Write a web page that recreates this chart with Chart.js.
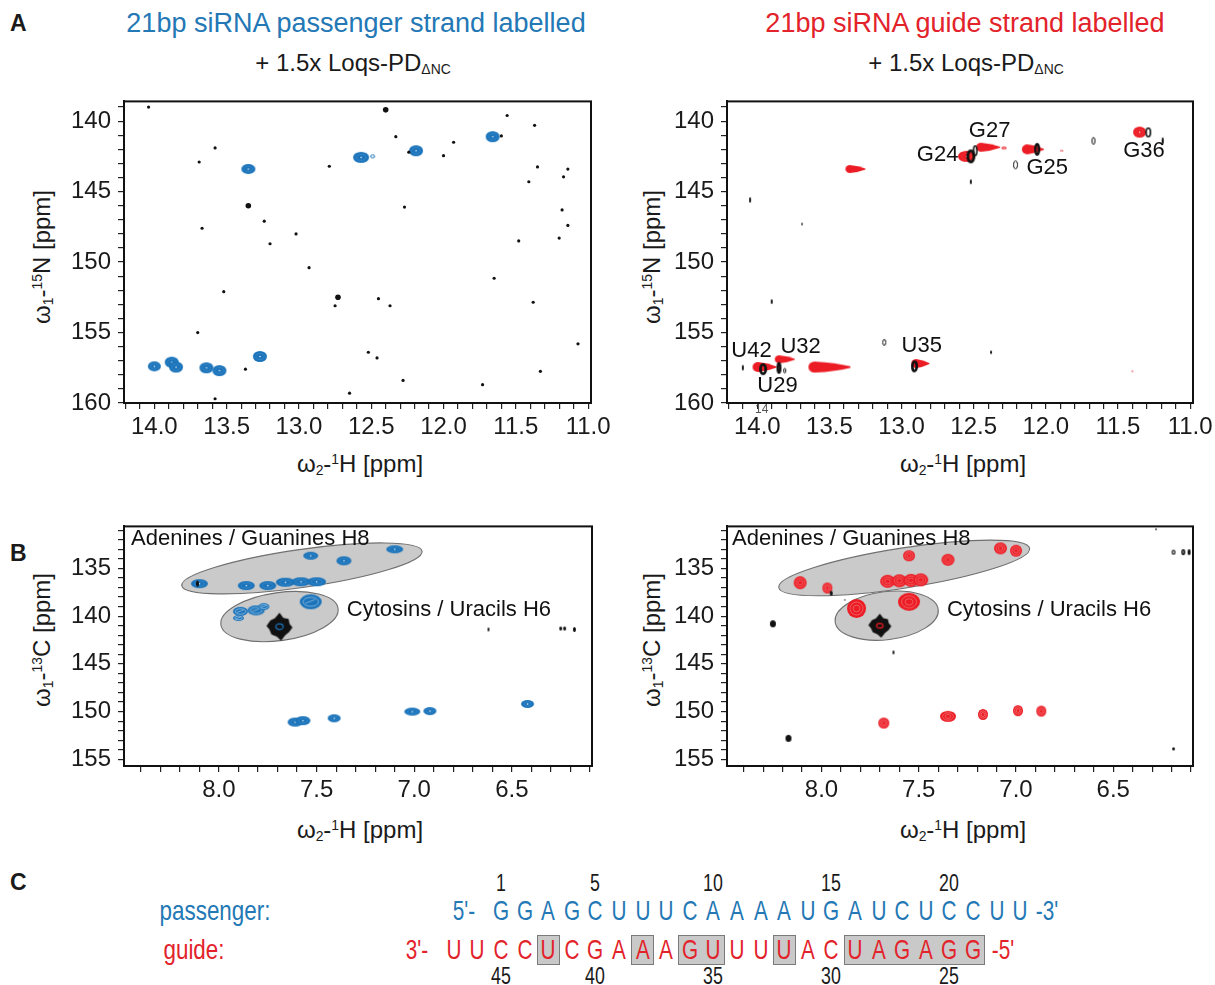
<!DOCTYPE html>
<html>
<head>
<meta charset="utf-8">
<script src="https://cdn.jsdelivr.net/npm/chart.js@4.4.0/dist/chart.umd.min.js"></script>
<style>
  body { margin: 0; width: 1215px; height: 985px; overflow: hidden; background: #fff; position: relative;
         font-family: Arial, "Liberation Sans", Helvetica, sans-serif; color: #1a1a1a; }
  .t { position: absolute; white-space: nowrap; line-height: 1; }
  .c { transform: translate(-50%, -50%); }
  .rot { transform: translate(-50%, -50%) rotate(-90deg); }
  .panel { position: absolute; }
  sub, sup { font-size: 58%; line-height: 0; }
  sub { vertical-align: -0.25em; }
  sup { vertical-align: 0.6em; }
  .seq { position: absolute; white-space: nowrap; line-height: 1; font-size: 28px; transform: translate(-50%, -50%) scaleX(0.74); }
  .box { position: absolute; background: #c9c9c9; border: 1px solid #7a7a7a; box-sizing: border-box; }
</style>
</head>
<body>
<div class="t" style="left:10px;top:12px;font-size:23px;font-weight:bold">A</div>
<div class="t" style="left:10px;top:542px;font-size:23px;font-weight:bold">B</div>
<div class="t" style="left:10px;top:871px;font-size:23px;font-weight:bold">C</div>

<div class="t c" style="left:356px;top:23px;font-size:27px;color:#2378b5">21bp siRNA passenger strand labelled</div>
<div class="t c" style="left:965px;top:23px;font-size:27px;color:#e3232b">21bp siRNA guide strand labelled</div>
<div class="t c" style="left:353px;top:63px;font-size:24px">+ 1.5x Loqs-PD<sub>ΔNC</sub></div>
<div class="t c" style="left:966px;top:63px;font-size:24px">+ 1.5x Loqs-PD<sub>ΔNC</sub></div>

<div class="t rot" style="left:42px;top:257px;font-size:24px">ω<sub>1</sub>-<sup>15</sup>N [ppm]</div>
<div class="t rot" style="left:652px;top:257px;font-size:24px">ω<sub>1</sub>-<sup>15</sup>N [ppm]</div>
<div class="t rot" style="left:42px;top:640px;font-size:24px">ω<sub>1</sub>-<sup>13</sup>C [ppm]</div>
<div class="t rot" style="left:652px;top:640px;font-size:24px">ω<sub>1</sub>-<sup>13</sup>C [ppm]</div>
<div class="t c" style="left:360px;top:464px;font-size:24px">ω<sub>2</sub>-<sup>1</sup>H [ppm]</div>
<div class="t c" style="left:963px;top:464px;font-size:24px">ω<sub>2</sub>-<sup>1</sup>H [ppm]</div>
<div class="t c" style="left:360px;top:830px;font-size:24px">ω<sub>2</sub>-<sup>1</sup>H [ppm]</div>
<div class="t c" style="left:963px;top:830px;font-size:24px">ω<sub>2</sub>-<sup>1</sup>H [ppm]</div>

<canvas id="aPass" class="panel" width="590" height="360" style="left:40px;top:80px"></canvas>
<canvas id="aGuide" class="panel" width="600" height="360" style="left:640px;top:80px"></canvas>
<canvas id="bPass" class="panel" width="590" height="300" style="left:40px;top:505px"></canvas>
<canvas id="bGuide" class="panel" width="600" height="300" style="left:640px;top:505px"></canvas>

<div id="seqArea"></div>

<script>
// ---- data (ppm) ----
// A: imino 1H-15N, passenger strand labelled
const aPassH = [13.35, 12.57, 12.49, 12.19, 11.66, 14.00, 13.88, 13.85, 13.64, 13.55, 13.27];
const aPassN = [143.4, 142.57, 142.5, 142.1, 141.1, 157.4, 157.1, 157.45, 157.5, 157.7, 156.7];
// black (unlabelled reference) peaks
const aPassBgH = [14.04, 11.56, 11.37, 12.33, 11.93, 12.24, 11.60, 13.58, 13.69, 12.79, 12.00, 11.35, 11.14, 11.17,
  11.41, 12.27, 11.18, 13.24, 11.14, 13.67, 13.02, 13.20, 11.48, 11.20, 12.93, 11.65, 13.52, 12.75, 12.45, 12.37,
  11.38, 13.70, 11.07, 12.52, 12.46, 13.37, 11.33, 12.28, 11.73, 12.65, 13.58];
const aPassBgN = [139.0, 139.6, 140.3, 141.1, 141.5, 142.2, 141.05, 141.9, 142.9, 143.2, 142.45, 143.25, 143.4, 143.95,
  144.3, 146.1, 146.3, 147.1, 147.4, 147.6, 148.0, 148.7, 148.5, 148.3, 150.4, 151.15, 152.1, 153.1, 152.6, 153.1,
  152.85, 155.0, 155.8, 156.4, 156.8, 157.6, 157.75, 158.4, 158.7, 159.3, 159.7];
const aPassBgBigH = [12.40, 13.35, 12.73];
const aPassBgBigN = [139.2, 146.0, 152.5];

// A: guide strand labelled
const aGuideH = [11.35, 12.40, 12.29, 12.55, 12.09, 11.89, 13.32, 13.95, 13.81, 13.50, 12.87, 11.40];
const aGuideN = [140.78, 141.85, 141.9, 142.5, 142.0, 142.1, 143.4, 157.45, 156.9, 157.45, 157.2, 157.75];
const aGuideBgH = [11.29, 11.19, 11.67, 12.49, 12.52, 12.06, 12.21, 12.52, 13.96, 13.85, 12.91, 13.12, 14.10, 13.81, 12.38, 14.05, 13.69, 13.90];
const aGuideBgN = [140.8, 141.4, 141.4, 142.1, 142.5, 142.0, 143.1, 144.3, 157.6, 157.5, 157.4, 155.7, 157.5, 157.7, 156.4, 145.6, 147.3, 152.8];
const aGuideNames = ['G27', 'G24', 'G25', 'G36', 'U42', 'U32', 'U29', 'U35'];

// B: aromatic 1H-13C, passenger strand labelled
const bPassH = [7.53, 7.36, 7.10, 8.10, 7.86, 7.75, 7.66, 7.58, 7.50, 7.89, 7.81, 7.90, 7.77, 7.53, 7.61, 7.57, 7.41, 7.01, 6.92, 6.42];
const bPassC = [133.67, 134.2, 133.0, 136.6, 136.8, 136.8, 136.45, 136.4, 136.4, 139.5, 139.4, 140.2, 139.0, 138.5, 151.1, 150.95, 150.7, 150.0, 149.95, 149.2];
const bPassBgH = [7.69, 8.11, 6.62, 6.25, 6.23, 6.18];
const bPassBgC = [141.1, 136.6, 141.4, 141.3, 141.3, 141.4];

// B: guide strand labelled
const bGuideH = [8.11, 7.97, 7.55, 7.35, 7.08, 7.00, 7.66, 7.60, 7.54, 7.49, 7.82, 7.55, 7.68, 7.35, 7.17, 6.99, 6.87];
const bGuideC = [136.5, 137.05, 133.67, 134.1, 132.9, 133.15, 136.35, 136.3, 136.25, 136.2, 139.2, 138.5, 151.2, 150.5, 150.3, 149.9, 149.95];
const bGuideBgH = [7.70, 8.25, 8.17, 7.63, 6.19, 6.14, 6.11, 6.28, 6.19, 7.88, 7.95];
const bGuideBgC = [141.0, 140.8, 152.8, 143.8, 133.3, 133.3, 133.3, 130.9, 153.9, 138.3, 137.6];

// tick labels
const hTicksA = [14.0, 13.5, 13.0, 12.5, 12.0, 11.5, 11.0];
const nTicks = [140, 145, 150, 155, 160];
const hTicksB = [8.0, 7.5, 7.0, 6.5];
const cTicks = [135, 140, 145, 150, 155];

// sequences (C)
const passengerSeq = 'GGAGCUUUCAAAAUGAUCUCCUU'.split('');
const guideSeq = 'UUCCUCGAAAGUUUUACUAGAGG'.split('');   // written 3' -> 5'
const topNumbers = [1, 5, 10, 15, 20];
const bottomNumbers = [45, 40, 35, 30, 25];
const boxedColumns = [3, 7, 9, 10, 13, 16, 17, 18, 19, 20, 21];

// ---- styling ----
const BLUE = '#1b74bb', RED = '#ec1c24', BLACK = '#111';
Chart.defaults.font.family = 'Arial, "Liberation Sans", Helvetica, sans-serif';
Chart.defaults.color = '#1a1a1a';

function sprite(w, h, paint) {
  const c = document.createElement('canvas');
  c.width = Math.ceil(w) + 4; c.height = Math.ceil(h) + 4;
  const g = c.getContext('2d');
  g.translate(c.width / 2, c.height / 2);
  paint(g, w / 2, h / 2);
  return c;
}
const oval = (g, rx, ry) => { g.beginPath(); g.ellipse(0, 0, rx, ry, 0, 0, Math.PI * 2); };
const blob = (w, h, col) => sprite(w, h, (g, rx, ry) => {
  g.fillStyle = col; oval(g, rx, ry); g.fill();
  g.strokeStyle = 'rgba(255,255,255,0.18)'; g.lineWidth = 0.6; oval(g, rx * 0.6, ry * 0.55); g.stroke();
  g.fillStyle = 'rgba(255,255,255,0.9)'; g.fillRect(-0.6, -0.6, 1.3, 1.3);
});
const tear = (w, h, col) => sprite(w, h, (g, rx, ry) => {
  const hx = -rx + ry * 1.1;
  g.fillStyle = col; g.beginPath();
  g.ellipse(hx, 0, ry * 1.1, ry, 0, Math.PI / 2, Math.PI * 1.5);
  g.quadraticCurveTo(rx * 0.3, -ry * 0.8, rx, -ry * 0.12);
  g.lineTo(rx, ry * 0.12);
  g.quadraticCurveTo(rx * 0.3, ry * 0.8, hx, ry);
  g.fill();
});
const ring = (w, h, col, lw) => sprite(w, h, (g, rx, ry) => {
  g.strokeStyle = col; g.lineWidth = lw; oval(g, Math.max(rx - lw / 2, 0.3), Math.max(ry - lw / 2, 0.3)); g.stroke();
});
const rings = (w, h, col) => sprite(w, h, (g, rx, ry) => {
  g.fillStyle = col; oval(g, rx, ry); g.fill();
  g.strokeStyle = 'rgba(255,255,255,0.55)'; g.lineWidth = 0.5;
  oval(g, rx * 0.68, ry * 0.68); g.stroke();
  oval(g, rx * 0.36, ry * 0.36); g.stroke();
});
const contour = (w, h, col) => sprite(w, h, (g, rx, ry) => {
  g.fillStyle = col; oval(g, rx, ry); g.fill();
  g.strokeStyle = 'rgba(255,255,255,0.6)'; g.lineWidth = 0.7;
  oval(g, rx * 0.7, ry * 0.6); g.stroke();
  g.beginPath(); g.moveTo(-rx * 0.5, ry * 0.2); g.lineTo(rx * 0.4, -ry * 0.3); g.stroke();
});
const star = (w, h, core) => sprite(w, h, (g, rx, ry) => {
  const pts = [[0, -1], [0.3, -0.62], [0.7, -0.55], [0.78, -0.2], [1, 0.05], [0.75, 0.38], [0.45, 0.6], [0.12, 1],
    [-0.2, 0.72], [-0.62, 0.55], [-0.78, 0.2], [-1, -0.05], [-0.7, -0.45], [-0.35, -0.6]];
  g.fillStyle = BLACK; g.beginPath();
  pts.forEach(([px, py], i) => i ? g.lineTo(px * rx, py * ry) : g.moveTo(px * rx, py * ry));
  g.closePath(); g.fill();
  g.strokeStyle = core; g.lineWidth = 1.2; oval(g, rx * 0.28, ry * 0.2); g.stroke();
});

const aPassLook = [blob(14, 10, BLUE), blob(16, 11, BLUE), ring(5, 4, BLUE, 1), blob(14, 11, BLUE), blob(14, 11, BLUE),
  blob(13, 10, BLUE), blob(14, 11, BLUE), blob(14, 11, BLUE), blob(14, 11, BLUE), blob(14, 11, BLUE), blob(14, 11, BLUE)];
const aGuideLook = [blob(13, 11, RED), tear(24, 9, RED), blob(5, 3, RED), blob(17, 11, RED), tear(22, 10, RED),
  blob(3, 2, RED), tear(20, 8, RED), tear(24, 10, RED), tear(20, 8, RED), tear(42, 11, RED), tear(18, 9, RED), blob(2, 2, RED)];
const aGuideBgLook = [ring(6, 10, BLACK, 1.6), ring(2, 7, BLACK, 1.5), ring(4, 8, BLACK, 1), ring(5, 11, BLACK, 1.6),
  ring(9, 14, BLACK, 2.8), ring(6, 13, BLACK, 2.4), ring(5, 9, BLACK, 1), ring(2, 5, BLACK, 1.2), ring(8, 12, BLACK, 2.8),
  ring(5, 12, BLACK, 2.4), ring(7, 12, BLACK, 2.6), ring(4, 7, BLACK, 1), ring(2, 6, BLACK, 1.2), ring(3, 6, BLACK, 1),
  ring(2, 4, BLACK, 1), ring(2, 6, BLACK, 1.2), ring(1.5, 3, BLACK, 1), ring(2, 5, BLACK, 1.2)];
const bPassLook = [blob(15, 8, BLUE), blob(15, 9, BLUE), blob(17, 8, BLUE), blob(17, 9, BLUE), blob(17, 9, BLUE),
  blob(17, 9, BLUE), blob(19, 9, BLUE), blob(19, 9, BLUE), blob(19, 9, BLUE), contour(15, 9, BLUE), contour(17, 10, BLUE),
  contour(11, 6, BLUE), contour(11, 7, BLUE), contour(22, 15, BLUE), blob(15, 9, BLUE), blob(15, 9, BLUE),
  blob(13, 8, BLUE), blob(16, 8, BLUE), blob(13, 8, BLUE), blob(13, 8, BLUE)];
const bPassBgLook = [star(26, 28, BLUE), ring(3, 6, BLACK, 1.5), ring(2, 4, BLACK, 1.2), ring(3, 4, BLACK, 1.5),
  ring(3, 4, BLACK, 1.5), ring(3, 5, BLACK, 1.5)];
const bGuideLook = [rings(13, 13, RED), rings(10, 11, RED), rings(12, 11, RED), rings(13, 12, RED), rings(13, 12, RED),
  rings(12, 12, RED), rings(15, 13, RED), rings(15, 13, RED), rings(15, 13, RED), rings(15, 13, RED), rings(19, 19, RED),
  rings(22, 18, RED), rings(11, 11, RED), rings(16, 11, RED), rings(10, 11, RED), rings(10, 11, RED), rings(10, 11, RED)];
const bGuideBgLook = [star(23, 24, RED), ring(6, 7, BLACK, 3), ring(6, 7, BLACK, 3), ring(2, 4, BLACK, 1.2),
  ring(4, 5, BLACK, 1.2), ring(4, 6, BLACK, 1.6), ring(3, 6, BLACK, 1.6), ring(2, 2, BLACK, 1), ring(3, 3, BLACK, 1.5),
  ring(1.5, 1.5, BLACK, 1), ring(3, 5, BLACK, 1.5)];

// ---- helpers ----
function steps(from, to, step) {      // evenly spaced minor tick values
  const out = [];
  for (let i = Math.round(from / step); i >= Math.round(to / step); i--) out.push(+(i * step).toFixed(2));
  return out;
}
function axis(min, max, minor, major, fixed, isX, digits) {
  return {
    type: 'linear', reverse: true, min, max, bounds: 'data',
    afterBuildTicks: s => { s.ticks = minor.map(v => ({ value: v })); },
    afterFit: s => { if (isX) s.height = fixed; else s.width = fixed; },
    ticks: {
      autoSkip: false, maxRotation: 0, minRotation: 0, padding: isX ? 4 : 7,
      font: { size: 24 }, color: '#1a1a1a',
      callback: v => major.some(m => Math.abs(m - v) < 1e-6) ? v.toFixed(digits) : ''
    },
    grid: { drawOnChartArea: false, tickLength: 6, color: '#222', lineWidth: 1.2 },
    border: { color: '#111', width: 2 }
  };
}
function peaks(xs, ys, look, extra) {
  return Object.assign({
    data: xs.map((x, i) => ({ x, y: ys[i] })),
    pointStyle: look ? (c => look[c.dataIndex]) : 'circle',
    pointRadius: 3, pointBorderWidth: 0, backgroundColor: BLACK, borderColor: BLACK, showLine: false
  }, extra || {});
}
// frame, grey assignment regions and in-plot text, all placed in ppm through the scales
function decor(regions, notes) {
  return {
    id: 'decor',
    beforeDatasetsDraw(chart) {
      const xs = chart.scales.x, ys = chart.scales.y, g = chart.ctx;
      regions.forEach(r => {
        const x1 = xs.getPixelForValue(r.from[0]), y1 = ys.getPixelForValue(r.from[1]);
        const x2 = xs.getPixelForValue(r.to[0]), y2 = ys.getPixelForValue(r.to[1]);
        g.save(); g.beginPath();
        g.ellipse((x1 + x2) / 2, (y1 + y2) / 2, Math.hypot(x2 - x1, y2 - y1) / 2, r.half, Math.atan2(y2 - y1, x2 - x1), 0, Math.PI * 2);
        g.fillStyle = '#cacaca'; g.fill(); g.lineWidth = 1.1; g.strokeStyle = '#707070'; g.stroke();
        g.restore();
      });
    },
    afterDraw(chart) {
      const xs = chart.scales.x, ys = chart.scales.y, g = chart.ctx, a = chart.chartArea;
      g.save();
      notes.forEach(n => {
        g.font = (n.size || 22) + 'px Arial, "Liberation Sans", sans-serif';
        g.fillStyle = n.color || '#111'; g.textAlign = n.align || 'center'; g.textBaseline = 'middle';
        g.fillText(n.text, xs.getPixelForValue(n.at[0]), ys.getPixelForValue(n.at[1]));
      });
      g.lineWidth = 2; g.strokeStyle = '#111';
      g.strokeRect(a.left, a.top, a.width, a.height);
      g.restore();
    }
  };
}
function spectrum(id, datasets, scales, pad, plugin) {
  return new Chart(document.getElementById(id), {
    type: 'scatter',
    data: { datasets },
    options: {
      responsive: false, animation: false, events: [],
      layout: { padding: pad },
      plugins: { legend: { display: false }, tooltip: { enabled: false } },
      scales
    },
    plugins: [plugin]
  });
}

// ---- A: 1H-15N ----
const aScales = (yw) => ({
  x: axis(10.98, 14.21, steps(14.2, 11.0, 0.1), hTicksA, 37, true, 1),
  y: axis(138.6, 160, steps(160, 139, 1), nTicks, yw, false, 0)
});
spectrum('aPass', [
  peaks(aPassBgBigH, aPassBgBigN, null, { pointRadius: 2.8 }),
  peaks(aPassBgH, aPassBgN, null, { pointRadius: 1.6 }),
  peaks(aPassH, aPassN, aPassLook)
], aScales(84), { top: 12, right: 39, left: 0, bottom: 0 }, decor([], []));

const guideLabelAt = [[12.39, 140.67], [12.75, 142.38], [11.99, 143.3], [11.32, 142.13],
  [14.04, 156.28], [13.70, 156.0], [13.86, 158.8], [12.86, 155.93]];
spectrum('aGuide', [
  peaks(aGuideBgH, aGuideBgN, aGuideBgLook),
  peaks(aGuideH, aGuideN, aGuideLook)
], aScales(87), { top: 12, right: 47, left: 0, bottom: 0 },
  decor([], aGuideNames.map((t, i) => ({ text: t, at: guideLabelAt[i] }))
    .concat([{ text: '14', at: [13.97, 160.5], size: 12, color: '#555' }])));

// ---- B: 1H-13C ----
const bScales = (yw) => ({
  x: axis(6.09, 8.486, steps(8.4, 6.1, 0.1), hTicksB, 39, true, 1),
  y: axis(130.6, 155.7, steps(155, 131, 1), cTicks, yw, false, 0)
});
spectrum('bPass', [
  peaks(bPassBgH, bPassBgC, bPassBgLook),
  peaks(bPassH, bPassC, bPassLook)
], bScales(84), { top: 16, right: 38, left: 0, bottom: 0 },
  decor([{ from: [8.19, 136.8], to: [6.96, 133.2], half: 19 }, { from: [7.99, 140.9], to: [7.39, 139.2], half: 24 }],
    [{ text: 'Adenines / Guanines H8', at: [8.45, 131.95], align: 'left' },
     { text: 'Cytosins / Uracils H6', at: [7.345, 139.4], align: 'left' }]));

spectrum('bGuide', [
  peaks(bGuideBgH, bGuideBgC, bGuideBgLook),
  peaks(bGuideH, bGuideC, bGuideLook)
], bScales(87), { top: 15, right: 47, left: 0, bottom: 0 },
  decor([{ from: [8.22, 137.0], to: [6.93, 132.9], half: 20 }, { from: [7.93, 140.6], to: [7.40, 139.3], half: 24 }],
    [{ text: 'Adenines / Guanines H8', at: [8.46, 131.95], align: 'left' },
     { text: 'Cytosins / Uracils H6', at: [7.355, 139.4], align: 'left' }]));

// ---- C: sequences ----
const area = document.getElementById('seqArea');
const colX = c => 501 + (c - 1) * 23.6;
function put(text, x, y, color, extraStyle) {
  const d = document.createElement('div');
  d.className = 'seq'; d.textContent = text;
  d.style.left = x + 'px'; d.style.top = y + 'px'; d.style.color = color || '#1a1a1a';
  if (extraStyle) Object.assign(d.style, extraStyle);
  area.appendChild(d);
}
// grey boxes behind guide letters, one per consecutive run
let run = [];
boxedColumns.concat([null]).forEach(c => {
  if (run.length && (c === null || c !== run[run.length - 1] + 1)) {
    const b = document.createElement('div');
    b.className = 'box';
    b.style.left = (colX(run[0]) - 11.5) + 'px';
    b.style.width = (colX(run[run.length - 1]) - colX(run[0]) + 23) + 'px';
    b.style.top = '935px'; b.style.height = '30px';
    area.appendChild(b); run = [];
  }
  if (c !== null) run.push(c);
});
put('passenger:', 215, 911, '#2378b5', { transform: 'translate(-50%, -50%) scaleX(0.8)' });
put('guide:', 194, 950, '#e3232b', { transform: 'translate(-50%, -50%) scaleX(0.8)' });
put("5'-", colX(1) - 37, 911, '#2378b5');
put("-3'", colX(passengerSeq.length) + 27, 911, '#2378b5');
passengerSeq.forEach((ch, i) => put(ch, colX(i + 1), 911, '#2378b5'));
put("3'-", colX(-1) - 37, 950, '#e3232b');
put("-5'", colX(guideSeq.length - 2) + 30, 950, '#e3232b');
guideSeq.forEach((ch, i) => put(ch, colX(i - 1), 950, '#e3232b'));
topNumbers.forEach(n => put(String(n), colX(n), 883, '#1a1a1a', { fontSize: '24px' }));
bottomNumbers.forEach((n, i) => put(String(n), colX(topNumbers[i]), 976, '#1a1a1a', { fontSize: '24px' }));
</script>
</body>
</html>
